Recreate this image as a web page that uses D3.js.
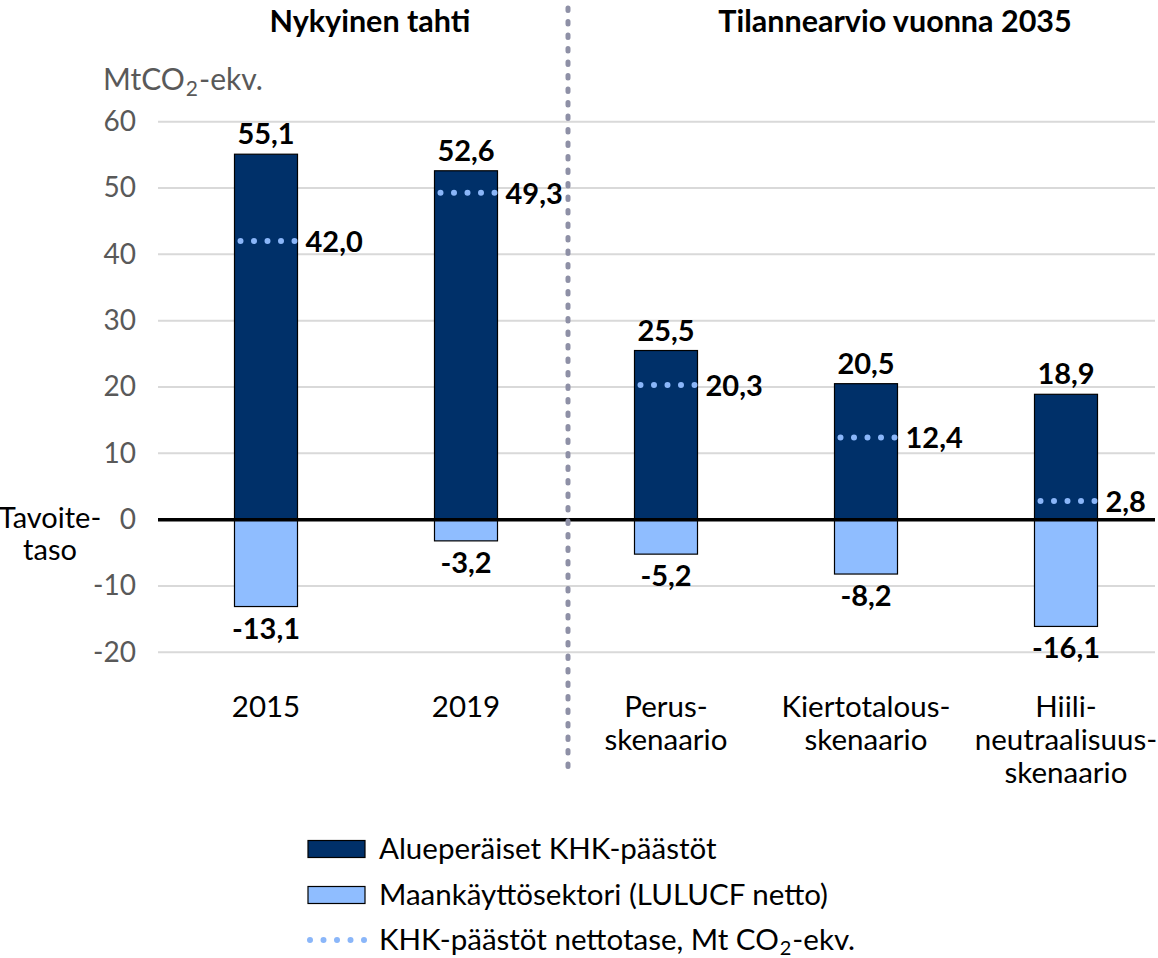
<!DOCTYPE html>
<html>
<head>
<meta charset="utf-8">
<script src="https://cdn.jsdelivr.net/npm/d3@7"></script>
<style>
  html, body { margin: 0; padding: 0; background: #fff; }
  svg { display: block; font-family: Lato, "Open Sans", sans-serif; }
</style>
</head>
<body>
<svg id="chart"></svg>
<script>
const width = 1158, height = 958;

// Data
const categories = ["2015", "2019", "Perus-skenaario", "Kiertotalous-skenaario", "Hiili-neutraalisuus-skenaario"];
const categoryLines = [["2015"], ["2019"], ["Perus-", "skenaario"], ["Kiertotalous-", "skenaario"], ["Hiili-", "neutraalisuus-", "skenaario"]];
const emissions = [55.1, 52.6, 25.5, 20.5, 18.9];
const lulucf = [-13.1, -3.2, -5.2, -8.2, -16.1];
const netBalance = [42.0, 49.3, 20.3, 12.4, 2.8];
const yTicks = [-20, -10, 0, 10, 20, 30, 40, 50, 60];
const groupTitles = ["Nykyinen tahti", "Tilannearvio vuonna 2035"];
const legendLabels = ["Alueperäiset KHK-päästöt", "Maankäyttösektori (LULUCF netto)", "KHK-päästöt nettotase, Mt CO"];

const darkBlue = "#003069", lightBlue = "#8fbdff", dotBlue = "#8ab6f9";
const fmt = v => v.toFixed(1).replace(".", ",");

const svg = d3.select("#chart")
    .attr("width", width)
    .attr("height", height)
    .attr("viewBox", [0, 0, width, height]);

const x = d3.scaleBand().domain(categories).range([166, 1166]).paddingInner(0.685).paddingOuter(0.3425);
const y = d3.scaleLinear().domain([-20, 60]).range([652.3, 121.7]);
const gridLeft = 158, gridRight = 1155;

// Gridlines
svg.append("g")
    .selectAll("line")
    .data(yTicks.filter(d => d !== 0))
    .join("line")
    .attr("x1", gridLeft).attr("x2", gridRight)
    .attr("y1", d => y(d)).attr("y2", d => y(d))
    .attr("stroke", "#d9d9d9")
    .attr("stroke-width", 2);

// Y axis tick labels
const yAxis = svg.append("g")
    .attr("transform", `translate(${gridLeft},0)`)
    .call(d3.axisLeft(y).tickValues(yTicks).tickSize(0).tickPadding(22).tickFormat(d => d));
yAxis.select(".domain").remove();
yAxis.selectAll("text")
    .attr("fill", "#595959")
    .attr("font-size", 28)
    .attr("font-family", "Lato, sans-serif");

// Unit label
const unit = svg.append("text")
    .attr("x", 103).attr("y", 90)
    .attr("fill", "#595959")
    .attr("font-size", 30);
unit.append("tspan").text("MtCO");
unit.append("tspan").text("2").attr("font-size", 21).attr("dy", 6).attr("dx", 1);
unit.append("tspan").text("-ekv.").attr("dy", -6).attr("dx", 1);

// Target level label
svg.append("text")
    .attr("font-size", 29)
    .attr("text-anchor", "middle")
    .selectAll("tspan")
    .data(["Tavoite-", "taso"])
    .join("tspan")
    .attr("x", 50)
    .attr("y", (d, i) => 528 + i * 32)
    .text(d => d);

// Bars: emissions (positive) and LULUCF (negative)
svg.append("g")
    .selectAll("rect")
    .data(categories)
    .join("rect")
    .attr("x", d => x(d))
    .attr("y", (d, i) => y(emissions[i]))
    .attr("width", x.bandwidth())
    .attr("height", (d, i) => y(0) - y(emissions[i]))
    .attr("fill", darkBlue)
    .attr("stroke", "#000")
    .attr("stroke-width", 1.2);

svg.append("g")
    .selectAll("rect")
    .data(categories)
    .join("rect")
    .attr("x", d => x(d))
    .attr("y", y(0))
    .attr("width", x.bandwidth())
    .attr("height", (d, i) => y(lulucf[i]) - y(0))
    .attr("fill", lightBlue)
    .attr("stroke", "#000")
    .attr("stroke-width", 1.2);

// Zero line
svg.append("line")
    .attr("x1", gridLeft).attr("x2", gridRight)
    .attr("y1", y(0)).attr("y2", y(0))
    .attr("stroke", "#000")
    .attr("stroke-width", 3.5);

// Net balance dotted markers
svg.append("g")
    .selectAll("line")
    .data(categories)
    .join("line")
    .attr("x1", d => x(d) + 6)
    .attr("x2", d => x(d) + x.bandwidth())
    .attr("y1", (d, i) => y(netBalance[i]))
    .attr("y2", (d, i) => y(netBalance[i]))
    .attr("stroke", dotBlue)
    .attr("stroke-width", 6)
    .attr("stroke-linecap", "round")
    .attr("stroke-dasharray", "0,13.5");

// Value labels
const labels = svg.append("g")
    .attr("font-weight", "bold")
    .attr("font-size", 29)
    .attr("fill", "#000");

labels.selectAll(".top")
    .data(categories)
    .join("text")
    .attr("class", "top")
    .attr("text-anchor", "middle")
    .attr("x", d => x(d) + x.bandwidth() / 2)
    .attr("y", (d, i) => y(emissions[i]) - 10)
    .text((d, i) => fmt(emissions[i]));

labels.selectAll(".bottom")
    .data(categories)
    .join("text")
    .attr("class", "bottom")
    .attr("text-anchor", "middle")
    .attr("x", d => x(d) + x.bandwidth() / 2)
    .attr("y", (d, i) => y(lulucf[i]) + 32)
    .text((d, i) => fmt(lulucf[i]));

labels.selectAll(".net")
    .data(categories)
    .join("text")
    .attr("class", "net")
    .attr("x", d => x(d) + x.bandwidth() + 8)
    .attr("y", (d, i) => y(netBalance[i]) + 11)
    .text((d, i) => fmt(netBalance[i]));

// Category labels
svg.append("g")
    .selectAll("text")
    .data(categories)
    .join("text")
    .attr("text-anchor", "middle")
    .attr("font-size", 29.5)
    .selectAll("tspan")
    .data((d, i) => categoryLines[i].map(line => ({ line, cx: x(d) + x.bandwidth() / 2 })))
    .join("tspan")
    .attr("x", d => d.cx)
    .attr("y", (d, j) => 717 + j * 33)
    .text(d => d.line);

// Divider between current and 2035 scenarios
const dividerX = (x(categories[1]) + x(categories[2]) + x.bandwidth()) / 2 + 2;
svg.append("line")
    .attr("x1", dividerX).attr("x2", dividerX)
    .attr("y1", 8).attr("y2", 768)
    .attr("stroke", "#8e90a6")
    .attr("stroke-width", 5)
    .attr("stroke-linecap", "round")
    .attr("stroke-dasharray", "2.5,11");

// Group titles
svg.append("g")
    .selectAll("text")
    .data(groupTitles)
    .join("text")
    .attr("text-anchor", "middle")
    .attr("font-weight", "bold")
    .attr("font-size", 30.5)
    .attr("x", (d, i) => i === 0 ? (x(categories[0]) + x(categories[1]) + x.bandwidth()) / 2 + 4 : 895)
    .attr("y", 32)
    .text(d => d);

// Legend
const legendRows = [849, 895, 940];
const legend = svg.append("g");
legend.append("rect")
    .attr("x", 308).attr("y", legendRows[0] - 8.5)
    .attr("width", 57).attr("height", 17)
    .attr("fill", darkBlue).attr("stroke", "#000").attr("stroke-width", 1.2);
legend.append("rect")
    .attr("x", 308).attr("y", legendRows[1] - 8.5)
    .attr("width", 57).attr("height", 17)
    .attr("fill", lightBlue).attr("stroke", "#000").attr("stroke-width", 1.2);
legend.append("line")
    .attr("x1", 310).attr("x2", 366)
    .attr("y1", legendRows[2]).attr("y2", legendRows[2])
    .attr("stroke", dotBlue)
    .attr("stroke-width", 6)
    .attr("stroke-linecap", "round")
    .attr("stroke-dasharray", "0,13.5");

legend.selectAll("text")
    .data(legendLabels)
    .join("text")
    .attr("x", 379)
    .attr("y", (d, i) => legendRows[i] + 10)
    .attr("font-size", 29.5)
    .text(d => d);

const lastLegend = legend.selectAll("text").filter((d, i) => i === 2);
lastLegend.append("tspan").text("2").attr("font-size", 20).attr("dy", 5).attr("dx", 1);
lastLegend.append("tspan").text("-ekv.").attr("dy", -5).attr("dx", 1);
</script>
</body>
</html>
